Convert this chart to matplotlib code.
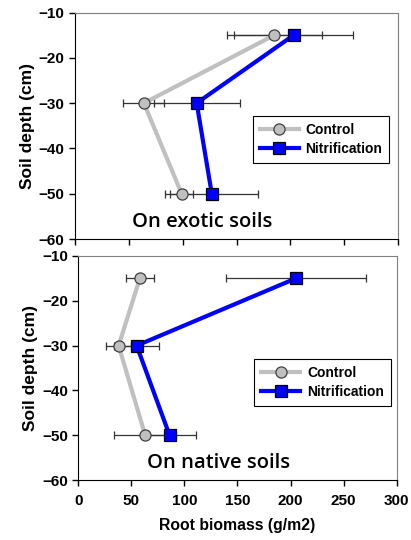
import matplotlib
matplotlib.use("Agg")
import matplotlib.pyplot as plt

# ---------------------------
# Data
# ---------------------------
depth = [-15, -30, -50]

exotic_control = [185, 64, 99]
exotic_control_err = [44, 19, 11]
exotic_nitr = [203, 113, 127]
exotic_nitr_err = [55, 40, 43]

native_control = [58, 38, 63]
native_control_err = [13, 12, 29]
native_nitr = [205, 55, 86]
native_nitr_err = [66, 21, 25]

panel_labels = ["On exotic soils", "On native soils"]
series_names = ["Control", "Nitrification"]

plt.rcParams['font.family'] = ['Liberation Sans', 'DejaVu Sans']

fig = plt.figure(figsize=(4.11, 5.40), dpi=100)
ax_top = fig.add_axes([0.1825, 0.5574, 0.786, 0.4194])
ax_bot = fig.add_axes([0.1905, 0.111, 0.7747, 0.415])


def draw_panel(ax, ctrl, ctrl_err, nitr, nitr_err, label, show_x, leg_anchor, label_x):
    ax.errorbar(ctrl, depth, xerr=ctrl_err, fmt='none', ecolor='#333333',
                elinewidth=0.9, capsize=3, capthick=0.9, zorder=2)
    ax.errorbar(nitr, depth, xerr=nitr_err, fmt='none', ecolor='#333333',
                elinewidth=0.9, capsize=3, capthick=0.9, zorder=2)
    ax.plot(ctrl, depth, color='#c0c0c0', lw=3, marker='o', ms=8,
            mfc='#c0c0c0', mec='#404040', mew=0.9, label=series_names[0], zorder=3)
    ax.plot(nitr, depth, color='#0000ff', lw=3, marker='s', ms=8,
            mfc='#0000ff', mec='#000000', mew=0.9, label=series_names[1], zorder=4)

    ax.set_xlim(0, 300)
    ax.set_ylim(-60, -10)
    ax.set_xticks(range(0, 301, 50))
    ax.set_yticks(range(-60, -9, 10))
    ax.tick_params(direction='out', length=4, width=1, labelsize=11)
    ax.tick_params(axis='x', pad=6)
    for t in ax.get_yticklabels() + ax.get_xticklabels():
        t.set_fontweight('bold')
    if not show_x:
        ax.tick_params(axis='x', labelbottom=False)
    else:
        ax.set_xlabel("Root biomass (g/m2)", fontsize=11.3, fontweight='bold', labelpad=7)
    ax.set_ylabel("Soil depth (cm)", fontsize=12.5, fontweight='bold', labelpad=3)

    for s in ['top', 'right']:
        ax.spines[s].set_color('#808080')
    for s in ['left', 'bottom']:
        ax.spines[s].set_color('black')

    leg = ax.legend(loc='upper right', bbox_to_anchor=leg_anchor, frameon=True,
                    fancybox=False, edgecolor='black', framealpha=1,
                    prop={'weight': 'bold', 'size': 10}, handlelength=2.8,
                    borderpad=0.5, labelspacing=0.35, handletextpad=0.5,
                    borderaxespad=0)
    leg.get_frame().set_linewidth(0.8)

    ax.text(label_x, -56.2, label, ha='center', va='center', fontsize=14.5,
            family=['Open Sans', 'DejaVu Sans'], fontweight='semibold')


draw_panel(ax_top, exotic_control, exotic_control_err, exotic_nitr, exotic_nitr_err,
           panel_labels[0], False, (0.973, 0.543), 118)
draw_panel(ax_bot, native_control, native_control_err, native_nitr, native_nitr_err,
           panel_labels[1], True, (0.982, 0.539), 132)

plt.savefig("out.png", dpi=100)
plt.close()
